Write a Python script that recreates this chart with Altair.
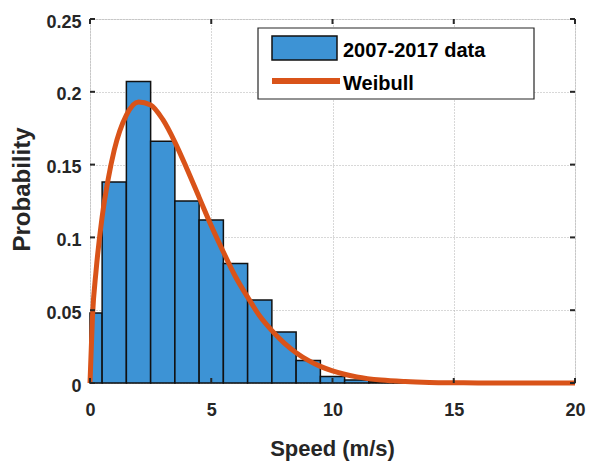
import altair as alt
import pandas as pd

# Histogram bins (m/s) and probabilities
bin_start = [0.0, 0.5, 1.5, 2.5, 3.5, 4.5, 5.5, 6.5, 7.5, 8.5, 9.5, 10.5, 11.5, 12.5]
bin_end = [0.5, 1.5, 2.5, 3.5, 4.5, 5.5, 6.5, 7.5, 8.5, 9.5, 10.5, 11.5, 12.5, 13.5]
prob = [0.048, 0.138, 0.207, 0.166, 0.125, 0.112, 0.082, 0.057, 0.035, 0.0155,
        0.0045, 0.002, 0.0008, 0.0004]

# Weibull fit curve
curve_x = [0, 0.1, 0.25, 0.5, 0.75, 1, 1.5, 2, 2.5, 3, 3.5, 4, 4.5, 5, 5.5, 6, 6.5,
           7, 7.5, 8, 8.5, 9, 9.5, 10, 11, 12, 13, 14, 15, 16, 17, 18, 19, 20]
curve_y = [0, 0.045, 0.077, 0.114, 0.140, 0.160, 0.184, 0.193, 0.191, 0.181, 0.1655,
           0.147, 0.1275, 0.108, 0.090, 0.073, 0.059, 0.046, 0.036, 0.0276, 0.0208,
           0.0155, 0.0114, 0.0083, 0.0042, 0.002, 0.00095, 0.0004, 0.00017, 0.00007,
           0.00003, 0.00001, 0, 0]

x_ticks = [0, 5, 10, 15, 20]
y_ticks = [0, 0.05, 0.1, 0.15, 0.2, 0.25]

legend_labels = ["2007-2017 data", "Weibull"]

FONT = "Liberation Sans"
AX = "#262626"
BAR = "#3D93D5"
LINE = "#D95319"

bars_df = pd.DataFrame({"x0": bin_start, "x1": bin_end, "p": prob})
curve_df = pd.DataFrame({"x": curve_x, "y": curve_y})
xt_df = pd.DataFrame({"t": x_ticks})
yt_df = pd.DataFrame({"t": y_ticks})
one = pd.DataFrame({"a": [0]})

xscale = alt.Scale(domain=[0, 20], nice=False, zero=False)
yscale = alt.Scale(domain=[0, 0.25], nice=False)

x_axis = alt.Axis(values=x_ticks, title="Speed (m/s)", grid=True, ticks=False,
                  domain=False, tickSize=0, labelPadding=18, labelFlush=False,
                  labelFont=FONT, labelFontWeight="bold", labelFontSize=18,
                  labelColor=AX, titleFont=FONT, titleFontWeight="bold",
                  titleFontSize=22, titleColor=AX, titleX=242, titleY=72,
                  titleBaseline="alphabetic",
                  gridColor="#b0b0b0", gridDash=[1, 2], gridWidth=1)
y_axis = alt.Axis(values=y_ticks, title="Probability", grid=True, ticks=False,
                  domain=False, tickSize=0, labelPadding=9, labelFlush=False,
                  labelOffset=3, labelFont=FONT,
                  labelFontWeight="bold", labelFontSize=18, labelColor=AX,
                  labelExpr="datum.value == 0 ? '0' : format(datum.value, '.2~f')",
                  titleFont=FONT, titleFontWeight="bold", titleFontSize=24,
                  titleColor=AX, titleX=-61, titleY=170, titleAngle=-90,
                  titleAlign="center", titleBaseline="alphabetic",
                  gridColor="#b0b0b0", gridDash=[1, 2], gridWidth=1)

bars = alt.Chart(bars_df).mark_rect(fill=BAR, stroke="#111111", strokeWidth=1.5).encode(
    x=alt.X("x0:Q", scale=xscale, axis=x_axis),
    x2="x1:Q",
    y=alt.Y("p:Q", scale=yscale, axis=y_axis),
    y2=alt.datum(0),
)

curve = alt.Chart(curve_df).mark_line(color=LINE, strokeWidth=5, interpolate="monotone").encode(
    x="x:Q", y="y:Q"
)

tick_style = dict(color=AX, strokeWidth=2)
xt_bot = alt.Chart(xt_df).mark_rule(**tick_style).encode(
    x="t:Q", y=alt.value(364), y2=alt.value(359))
xt_top = alt.Chart(xt_df).mark_rule(**tick_style).encode(
    x="t:Q", y=alt.value(0), y2=alt.value(5))
yt_left = alt.Chart(yt_df).mark_rule(**tick_style).encode(
    y="t:Q", x=alt.value(0), x2=alt.value(5))
yt_right = alt.Chart(yt_df).mark_rule(**tick_style).encode(
    y="t:Q", x=alt.value(485), x2=alt.value(480))

# Legend
leg_box = alt.Chart(one).mark_rect(fill="white", stroke=AX, strokeWidth=1.2).encode(
    x=alt.value(168), x2=alt.value(444), y=alt.value(9), y2=alt.value(80))
leg_patch = alt.Chart(one).mark_rect(fill=BAR, stroke="#111111", strokeWidth=1.5).encode(
    x=alt.value(182), x2=alt.value(247), y=alt.value(17), y2=alt.value(41))
leg_line = alt.Chart(one).mark_rule(color=LINE, strokeWidth=6).encode(
    x=alt.value(182), x2=alt.value(250), y=alt.value(62))
leg_t1 = alt.Chart(one).mark_text(text=legend_labels[0], font=FONT, fontWeight="bold",
                                  fontSize=20, color="black", align="left",
                                  baseline="alphabetic").encode(
    x=alt.value(253), y=alt.value(38))
leg_t2 = alt.Chart(one).mark_text(text=legend_labels[1], font=FONT, fontWeight="bold",
                                  fontSize=20, color="black", align="left",
                                  baseline="alphabetic").encode(
    x=alt.value(253), y=alt.value(71))

chart = alt.layer(bars, curve, xt_bot, xt_top, yt_left, yt_right,
                  leg_box, leg_patch, leg_line, leg_t1, leg_t2).properties(
    width=485, height=364,
    autosize=alt.AutoSizeParams(type="none"),
    padding={"left": 82, "top": 11, "right": 14, "bottom": 80},
).configure_view(stroke=AX, strokeWidth=2).configure(background="white")

chart.save("out.html", embed_options={"renderer": "svg", "actions": False})
